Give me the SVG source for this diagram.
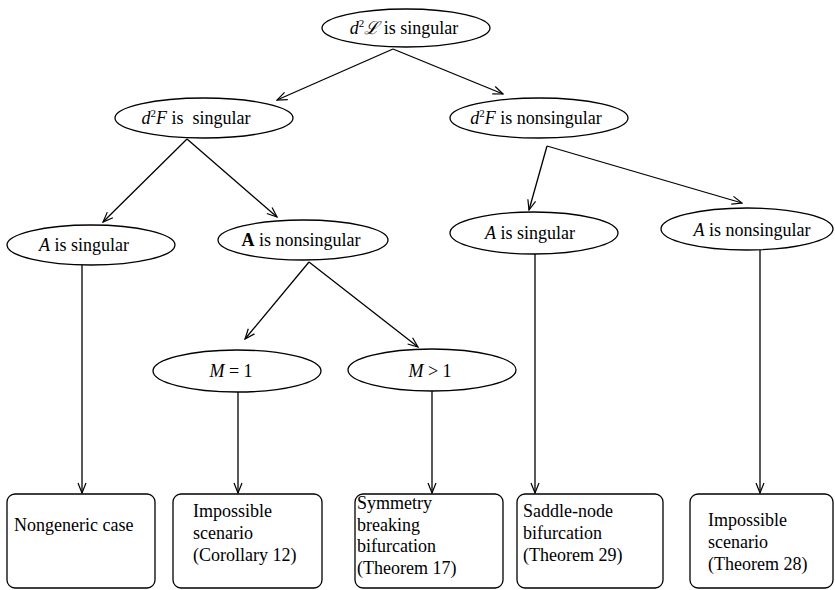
<svg xmlns="http://www.w3.org/2000/svg" width="835" height="590" viewBox="0 0 835 590">
<style>
.n{fill:#fff;stroke:#000;stroke-width:1.3}
.t{font-family:"Liberation Serif","Times New Roman",serif;font-size:18px;fill:#000;white-space:pre}
.c{text-anchor:middle}
.e{stroke:#000;stroke-width:1.3;fill:none;marker-end:url(#ah)}
.s{font-size:11px}
</style>
<defs>
<marker id="ah" markerUnits="userSpaceOnUse" markerWidth="12" markerHeight="10" viewBox="0 0 12 10" refX="11" refY="5" orient="auto">
<path d="M1,1 L11,5 L1,9" fill="none" stroke="#000" stroke-width="1.2"/>
</marker>
</defs>
<g id="connectors">
<line class="e" x1="393" y1="49" x2="277" y2="100"/>
<line class="e" x1="393" y1="49" x2="503" y2="94"/>
<line class="e" x1="187" y1="139" x2="103" y2="222"/>
<line class="e" x1="187" y1="139" x2="277" y2="217"/>
<polyline class="e" points="547,146 529,210"/>
<line class="e" x1="547" y1="146" x2="742" y2="203"/>
<line class="e" x1="309" y1="262" x2="245" y2="339"/>
<line class="e" x1="309" y1="262" x2="418" y2="347"/>
<line class="e" x1="82" y1="265" x2="82" y2="493"/>
<line class="e" x1="238" y1="391" x2="238" y2="493"/>
<line class="e" x1="432" y1="391" x2="432" y2="493"/>
<line class="e" x1="535" y1="254" x2="535" y2="493"/>
<line class="e" x1="760" y1="250" x2="760" y2="493"/>
</g>
<g id="n_top">
<ellipse class="n" cx="406" cy="28" rx="84" ry="19"/>
<text class="t c" x="404" y="34"><tspan font-style="italic">d</tspan><tspan class="s" dy="-7">2</tspan><tspan dy="7" font-style="italic">ℒ</tspan> is singular</text>
</g>
<g id="n_d2F_sing">
<ellipse class="n" cx="204" cy="118" rx="89" ry="20"/>
<text class="t c" x="196" y="124"><tspan font-style="italic">d</tspan><tspan class="s" dy="-7">2</tspan><tspan dy="7" font-style="italic">F</tspan> is  singular</text>
</g>
<g id="n_d2F_nonsing">
<ellipse class="n" cx="539" cy="118" rx="89" ry="20"/>
<text class="t c" x="536" y="124"><tspan font-style="italic">d</tspan><tspan class="s" dy="-7">2</tspan><tspan dy="7" font-style="italic">F</tspan> is nonsingular</text>
</g>
<g id="n_A_sing_left">
<ellipse class="n" cx="91" cy="245" rx="84" ry="20"/>
<text class="t c" x="84" y="251"><tspan font-style="italic">A</tspan> is singular</text>
</g>
<g id="n_A_nonsing_bold">
<ellipse class="n" cx="303" cy="240" rx="85" ry="20"/>
<text class="t c" x="301" y="246"><tspan font-weight="bold">A</tspan> is nonsingular</text>
</g>
<g id="n_A_sing_right">
<ellipse class="n" cx="534" cy="233" rx="84" ry="21"/>
<text class="t c" x="530" y="239"><tspan font-style="italic">A</tspan> is singular</text>
</g>
<g id="n_A_nonsing_right">
<ellipse class="n" cx="747" cy="229" rx="86" ry="21"/>
<text class="t c" x="752" y="236"><tspan font-style="italic">A</tspan> is nonsingular</text>
</g>
<g id="n_M1">
<ellipse class="n" cx="237" cy="371" rx="84" ry="21"/>
<text class="t c" x="231" y="377"><tspan font-style="italic">M</tspan> = 1</text>
</g>
<g id="n_Mgt1">
<ellipse class="n" cx="432" cy="370" rx="84" ry="21"/>
<text class="t c" x="430" y="377"><tspan font-style="italic">M</tspan> &gt; 1</text>
</g>
<g id="b_nongeneric">
<rect class="n" x="7" y="494" width="148" height="94" rx="8"/>
<text class="t" x="14" y="531">Nongeneric case</text>
</g>
<g id="b_cor12">
<rect class="n" x="173" y="494" width="149" height="94" rx="8"/>
<text class="t" x="193" y="517">Impossible</text>
<text class="t" x="193" y="539">scenario</text>
<text class="t" x="193" y="561">(Corollary 12)</text>
</g>
<g id="b_thm17">
<rect class="n" x="355" y="494" width="148" height="94" rx="8"/>
<text class="t" x="357" y="509">Symmetry</text>
<text class="t" x="357" y="531">breaking</text>
<text class="t" x="357" y="552">bifurcation</text>
<text class="t" x="357" y="574">(Theorem 17)</text>
</g>
<g id="b_thm29">
<rect class="n" x="517" y="494" width="146" height="94" rx="8"/>
<text class="t" x="523" y="517">Saddle-node</text>
<text class="t" x="523" y="539">bifurcation</text>
<text class="t" x="523" y="561">(Theorem 29)</text>
</g>
<g id="b_thm28">
<rect class="n" x="690" y="494" width="143" height="94" rx="8"/>
<text class="t" x="708" y="526">Impossible</text>
<text class="t" x="708" y="548">scenario</text>
<text class="t" x="708" y="570">(Theorem 28)</text>
</g>
</svg>
